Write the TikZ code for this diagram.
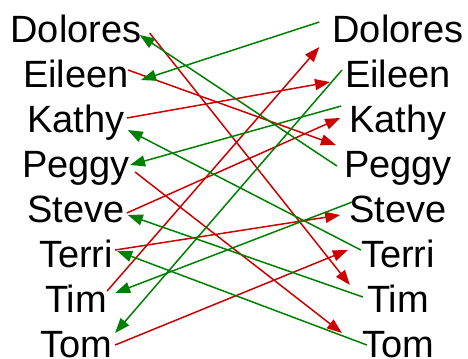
\documentclass[tikz,border=0pt]{standalone}
\usepackage{fontspec}
\setmainfont{Liberation Sans}
\usetikzlibrary{arrows.meta}
\definecolor{ared}{RGB}{204,0,0}
\definecolor{agreen}{RGB}{0,128,0}
\begin{document}
\begin{tikzpicture}[x=1bp,y=-1bp,
  lbl/.style={inner sep=0pt,anchor=base,font=\fontsize{38bp}{40bp}\selectfont},
  redarrow/.style={ared,line width=1.5bp,-{Triangle[length=15bp,width=11bp]}},
  greenarrow/.style={agreen,line width=1.5bp,-{Triangle[length=15bp,width=11bp]}}]
\useasboundingbox (0,0) rectangle (468,358);
% left column
\node[lbl] (L1) at (76,42) {Dolores};
\node[lbl] (L2) at (76,87) {Eileen};
\node[lbl] (L3) at (76,132) {Kathy};
\node[lbl] (L4) at (76,177) {Peggy};
\node[lbl] (L5) at (76,222) {Steve};
\node[lbl] (L6) at (76,267) {Terri};
\node[lbl] (L7) at (76,312) {Tim};
\node[lbl] (L8) at (76,357) {Tom};
% right column
\node[lbl] (R1) at (398,42) {Dolores};
\node[lbl] (R2) at (398,87) {Eileen};
\node[lbl] (R3) at (398,132) {Kathy};
\node[lbl] (R4) at (398,177) {Peggy};
\node[lbl] (R5) at (398,222) {Steve};
\node[lbl] (R6) at (398,267) {Terri};
\node[lbl] (R7) at (398,312) {Tim};
\node[lbl] (R8) at (398,357) {Tom};
% red: left -> right
\draw[redarrow] ([shift={(8,-9)}]L1.base east) -- ([shift={(-17,-27)}]R7.base west);
\draw[redarrow] ([shift={(-1,-17)}]L2.base east) -- ([shift={(-8,-32)}]R4.base west);
\draw[redarrow] ([shift={(2,-14)}]L3.base east) -- ([shift={(-15,-5)}]R2.base west);
\draw[redarrow] ([shift={(5,-5)}]L4.base east) -- ([shift={(-20,-24)}]R8.base west);
\draw[redarrow] ([shift={(2,-9)}]L5.base east) -- ([shift={(-9,-14)}]R3.base west);
\draw[redarrow] ([shift={(2,-17)}]L6.base east) -- ([shift={(-9,-7)}]R5.base west);
\draw[redarrow] ([shift={(0,-21)}]L7.base east) -- ([shift={(-13,5)}]R1.base west);
\draw[redarrow] ([shift={(3,-12)}]L8.base east) -- ([shift={(-13,-17)}]R6.base west);
% green: right -> left
\draw[greenarrow] ([shift={(-13,-20)}]R1.base west) -- ([shift={(12,-7)}]L2.base east);
\draw[greenarrow] ([shift={(-3,-17)}]R2.base west) -- ([shift={(3,-24)}]L8.base east);
\draw[greenarrow] ([shift={(-8,-26)}]R3.base west) -- ([shift={(0,-12)}]L4.base east);
\draw[greenarrow] ([shift={(-7,-11)}]R4.base west) -- ([shift={(-2,-7)}]L1.base east);
\draw[greenarrow] ([shift={(3,-20)}]R5.base west) -- ([shift={(8,-19)}]L7.base east);
\draw[greenarrow] ([shift={(0,-17)}]R6.base west) -- ([shift={(3,-2)}]L3.base east);
\draw[greenarrow] ([shift={(-4,-15)}]R7.base west) -- ([shift={(3,-7)}]L5.base east);
\draw[greenarrow] ([shift={(5,-12)}]R8.base west) -- ([shift={(4,-16)}]L6.base east);
\end{tikzpicture}
\end{document}
